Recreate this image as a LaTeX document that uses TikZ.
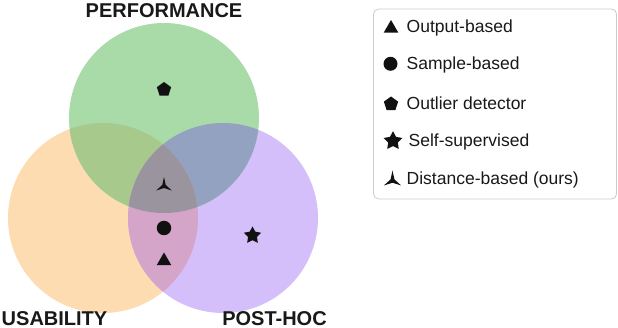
\documentclass[tikz,border=0pt]{standalone}
\usepackage{fontspec}
\setmainfont{Liberation Sans}
\usetikzlibrary{shapes.geometric}
\definecolor{perfcol}{HTML}{A8DBA8}
\definecolor{usabcol}{HTML}{FEDCB2}
\definecolor{postcol}{HTML}{D5BFFB}
\definecolor{perfusab}{HTML}{A7C98B}
\definecolor{perfpost}{HTML}{93A2C0}
\definecolor{usabpost}{HTML}{D4A5C8}
\definecolor{allthree}{HTML}{9A949F}
\definecolor{markcol}{HTML}{111111}
\newcommand{\vennr}{95pt}
\tikzset{
    marker/.style={fill=markcol, draw=none, inner sep=0pt},
    pentmark/.style={marker, regular polygon, regular polygon sides=5, minimum size=15pt},
    trimark/.style={marker, regular polygon, regular polygon sides=3, minimum size=17pt},
    dotmark/.style={marker, circle, minimum size=14.5pt},
    starmark/.style={marker, star, star points=5, star point ratio=1.9, minimum size=18pt},
    tripodmark/.style={marker, star, star points=3, star point ratio=4.5, minimum size=18pt},
    setlabel/.style={font=\fontsize{20}{24}\selectfont\bfseries, inner sep=0pt, anchor=base, text=black!90},
    legtext/.style={font=\fontsize{17.5}{21}\selectfont, inner sep=0pt, anchor=base west, text=black!90},
    legbox/.style={draw=black!20, fill=white, rounded corners=5pt, line width=0.8pt,
        minimum width=243pt, minimum height=190pt}
}

\begin{document}
\begin{tikzpicture}[x=1pt, y=-1pt]
    \useasboundingbox (0,0) rectangle (618,328);

    % Circle centres
    \coordinate (perf) at (164,118);
    \coordinate (usab) at (103,218);
    \coordinate (post) at (223,218);

    % Single sets
    \fill[usabcol] (usab) circle[radius=\vennr];
    \fill[postcol] (post) circle[radius=\vennr];
    \fill[perfcol] (perf) circle[radius=\vennr];

    % Pairwise overlaps
    \begin{scope}
        \clip (perf) circle[radius=\vennr];
        \fill[perfusab] (usab) circle[radius=\vennr];
        \fill[perfpost] (post) circle[radius=\vennr];
    \end{scope}
    \begin{scope}
        \clip (usab) circle[radius=\vennr];
        \fill[usabpost] (post) circle[radius=\vennr];
    \end{scope}

    % Triple overlap
    \begin{scope}
        \clip (perf) circle[radius=\vennr];
        \clip (usab) circle[radius=\vennr];
        \fill[allthree] (post) circle[radius=\vennr];
    \end{scope}

    % Set labels
    \node[setlabel] (perflabel) at (164,17.5) {PERFORMANCE};
    \node[setlabel] (usablabel) at (54.5,326) {USABILITY};
    \node[setlabel] (postlabel) at (274.5,326) {POST-HOC};

    % Methods inside the diagram
    \node[pentmark] (outlier) at (164,89.5) {};
    \node[tripodmark] (distance) at (164,186) {};
    \node[dotmark] (sample) at (164,228) {};
    \node[trimark] (output) at (164,261) {};
    \node[starmark] (selfsup) at (252.5,235.5) {};

    % Legend
    \node[legbox] (legend) at (495,104) {};
    \node[trimark] (lgoutput) at (391,28.5) {};
    \node[dotmark, minimum size=14pt] (lgsample) at (390.5,63.8) {};
    \node[pentmark] (lgoutlier) at (391,104) {};
    \node[starmark, minimum size=19.5pt] (lgselfsup) at (393,141) {};
    \node[tripodmark, minimum size=20pt] (lgdistance) at (392.5,180.5) {};

    \node[legtext] (txoutput) at (406.5,32.7) {Output-based};
    \node[legtext] (txsample) at (406.5,70) {Sample-based};
    \node[legtext] (txoutlier) at (406.5,109.5) {Outlier detector};
    \node[legtext] (txselfsup) at (408.5,146.7) {Self-supervised};
    \node[legtext] (txdistance) at (406.5,185) {Distance-based (ours)};
\end{tikzpicture}
\end{document}
